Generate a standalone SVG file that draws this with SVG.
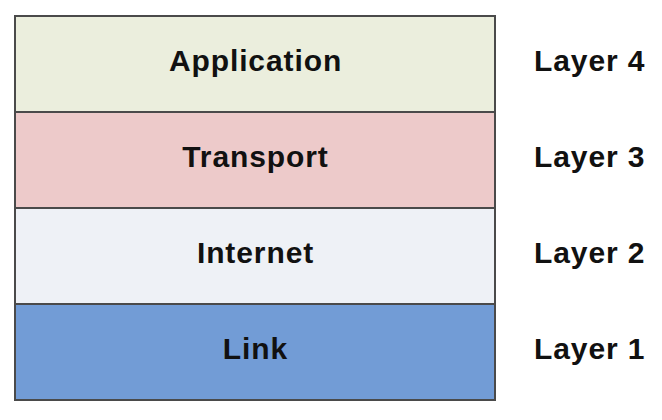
<svg xmlns="http://www.w3.org/2000/svg" width="662" height="420" viewBox="0 0 662 420">
<style>
.layer{stroke:#4a4a4a;stroke-width:2}
.t{font-family:"Liberation Sans",Arial,sans-serif;font-weight:bold;font-size:30px;letter-spacing:0.9px;fill:#111}
.c{text-anchor:middle}
</style>
<rect width="662" height="420" fill="#ffffff"/>
<g id="application">
<rect class="layer" x="15" y="16" width="480" height="96" fill="#EBEEDD"/>
<text class="t c" x="255.5" y="71">Application</text>
</g>
<g id="transport">
<rect class="layer" x="15" y="112" width="480" height="96" fill="#EDCACA"/>
<text class="t c" x="255.5" y="167">Transport</text>
</g>
<g id="internet">
<rect class="layer" x="15" y="208" width="480" height="96" fill="#EEF1F6"/>
<text class="t c" x="255.5" y="263">Internet</text>
</g>
<g id="link">
<rect class="layer" x="15" y="304" width="480" height="96" fill="#729CD6"/>
<text class="t c" x="255.5" y="359">Link</text>
</g>
<g id="labels">
<text class="t" x="534" y="71">Layer 4</text>
<text class="t" x="534" y="167">Layer 3</text>
<text class="t" x="534" y="263">Layer 2</text>
<text class="t" x="534" y="359">Layer 1</text>
</g>
<g id="connectors"></g>
</svg>
